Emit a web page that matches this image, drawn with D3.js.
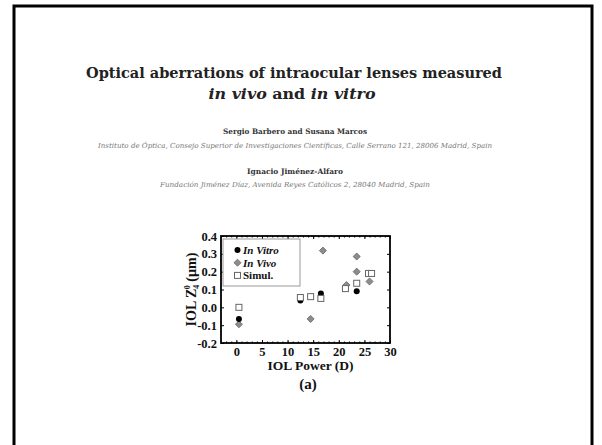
<!DOCTYPE html>
<html>
<head>
<meta charset="utf-8">
<script src="https://cdn.jsdelivr.net/npm/d3@7"></script>
<style>
  body { margin: 0; background: #fff; }
  svg { display: block; }
</style>
</head>
<body>
<div id="chart"></div>
<script>
// DATA
var inVitro = [[0.5, -0.065], [12.5, 0.038], [16.5, 0.078], [23.5, 0.09]];
var inVivo = [[0.5, -0.095], [14.5, -0.065], [16.9, 0.318], [21.5, 0.125],
              [23.5, 0.285], [23.5, 0.2], [26, 0.145]];
var simul = [[0.5, 0.0], [12.5, 0.055], [14.5, 0.06], [16.5, 0.05],
             [21.3, 0.105], [23.5, 0.135], [25.8, 0.19], [26.4, 0.19]];

var xTicks = [0, 5, 10, 15, 20, 25, 30];
var yTicks = [-0.2, -0.1, 0.0, 0.1, 0.2, 0.3, 0.4];
var yTickLabels = ["-0.2", "-0.1", "0.0", "0.1", "0.2", "0.3", "0.4"];
var legendNames = ["In Vitro", "In Vivo", "Simul."];

var titleLine1 = "Optical aberrations of intraocular lenses measured";
var authors1 = "Sergio Barbero and Susana Marcos";
var affil1 = "Instituto de Óptica, Consejo Superior de Investigaciones Científicas, Calle Serrano 121, 28006 Madrid, Spain";
var authors2 = "Ignacio Jiménez-Alfaro";
var affil2 = "Fundación Jiménez Díaz, Avenida Reyes Católicos 2, 28040 Madrid, Spain";

// LAYOUT
var WIDTH = 602, HEIGHT = 445;
var PLOT = {left: 221, right: 390, top: 236, bottom: 343};
var SERIF = "'Liberation Serif', 'Times New Roman', serif";
var WIDE_SERIF = "'DejaVu Serif', serif";

var svg = d3.select("#chart").append("svg")
    .attr("width", WIDTH)
    .attr("height", HEIGHT);

// page frame (no bottom edge)
svg.append("path")
    .attr("d", "M14," + HEIGHT + "V6H592V" + HEIGHT)
    .attr("fill", "none")
    .attr("stroke", "#000")
    .attr("stroke-width", 3);

// header texts
svg.append("text")
    .attr("x", 294).attr("y", 78)
    .attr("text-anchor", "middle")
    .attr("font-family", WIDE_SERIF).attr("font-weight", "bold")
    .attr("font-size", 14)
    .attr("textLength", 416).attr("lengthAdjust", "spacingAndGlyphs")
    .attr("fill", "#222")
    .text(titleLine1);

var t2 = svg.append("text")
    .attr("x", 292).attr("y", 99)
    .attr("text-anchor", "middle")
    .attr("font-family", WIDE_SERIF).attr("font-weight", "bold")
    .attr("font-size", 14)
    .attr("textLength", 167).attr("lengthAdjust", "spacingAndGlyphs")
    .attr("fill", "#222");
t2.append("tspan").attr("font-style", "italic").text("in vivo");
t2.append("tspan").text(" and ");
t2.append("tspan").attr("font-style", "italic").text("in vitro");

var headerLines = [
    {text: authors1, y: 134, w: 144, bold: true, size: 7.5, col: "#333"},
    {text: affil1, y: 148, w: 394, bold: false, size: 7, col: "#777"},
    {text: authors2, y: 174, w: 96, bold: true, size: 7.5, col: "#333"},
    {text: affil2, y: 187, w: 270, bold: false, size: 7, col: "#777"}
];
svg.selectAll(".hdr")
    .data(headerLines)
    .enter()
    .append("text")
    .attr("class", "hdr")
    .attr("x", 295)
    .attr("y", d => d.y)
    .attr("text-anchor", "middle")
    .attr("font-family", WIDE_SERIF)
    .attr("font-weight", d => d.bold ? "bold" : "normal")
    .attr("font-style", d => d.bold ? "normal" : "italic")
    .attr("font-size", d => d.size)
    .attr("textLength", d => d.w)
    .attr("lengthAdjust", "spacingAndGlyphs")
    .attr("fill", d => d.col)
    .text(d => d.text);

// SCALES
var xScale = d3.scaleLinear().domain([-3, 30]).range([PLOT.left, PLOT.right]);
var yScale = d3.scaleLinear().domain([-0.2, 0.4]).range([PLOT.bottom, PLOT.top]);

// AXES
function styleAxis(g) {
    g.select(".domain").remove();
    g.selectAll("line").attr("stroke", "#000").attr("stroke-width", 1);
    g.selectAll("text")
        .attr("font-family", SERIF)
        .attr("font-weight", "bold")
        .attr("font-size", 12.5)
        .attr("fill", "#111");
}

var minorX = d3.range(-3, 31, 1);

svg.append("g")
    .attr("transform", "translate(0," + PLOT.bottom + ")")
    .call(d3.axisBottom(xScale).tickValues(minorX).tickSize(-1.5).tickFormat(""))
    .call(styleAxis);
svg.append("g")
    .attr("transform", "translate(0," + PLOT.top + ")")
    .call(d3.axisTop(xScale).tickValues(minorX).tickSize(-1.5).tickFormat(""))
    .call(styleAxis);

svg.append("g")
    .attr("transform", "translate(0," + PLOT.bottom + ")")
    .call(d3.axisBottom(xScale).tickValues(xTicks).tickSize(-3).tickPadding(4))
    .call(styleAxis);
svg.append("g")
    .attr("transform", "translate(0," + PLOT.top + ")")
    .call(d3.axisTop(xScale).tickValues(xTicks).tickSize(-3).tickFormat(""))
    .call(styleAxis);

svg.append("g")
    .attr("transform", "translate(" + PLOT.left + ",0)")
    .call(d3.axisLeft(yScale).tickValues(yTicks).tickSize(-3).tickPadding(4)
        .tickFormat((d, i) => yTickLabels[i]))
    .call(styleAxis);
svg.append("g")
    .attr("transform", "translate(" + PLOT.right + ",0)")
    .call(d3.axisRight(yScale).tickValues(yTicks).tickSize(-3).tickFormat(""))
    .call(styleAxis);

// axes box
svg.append("rect")
    .attr("x", PLOT.left).attr("y", PLOT.top)
    .attr("width", PLOT.right - PLOT.left)
    .attr("height", PLOT.bottom - PLOT.top)
    .attr("fill", "none")
    .attr("stroke", "#000")
    .attr("stroke-width", 1.8);

// axis titles
svg.append("text")
    .attr("x", (PLOT.left + PLOT.right) / 2 + 5)
    .attr("y", 370)
    .attr("text-anchor", "middle")
    .attr("font-family", SERIF).attr("font-weight", "bold")
    .attr("font-size", 13.5)
    .attr("fill", "#111")
    .text("IOL Power (D)");

var yl = svg.append("text")
    .attr("transform", "translate(196," + ((PLOT.top + PLOT.bottom) / 2) + ") rotate(-90)")
    .attr("text-anchor", "middle")
    .attr("font-family", SERIF).attr("font-weight", "bold")
    .attr("font-size", 14)
    .attr("fill", "#111");
yl.append("tspan").text("IOL Z");
yl.append("tspan").attr("font-size", 8).attr("dy", 3).text("4");
yl.append("tspan").attr("font-size", 8).attr("dx", -4.5).attr("dy", -9).text("0");
yl.append("tspan").attr("dy", 6).text(" (µm)");

svg.append("text")
    .attr("x", 308).attr("y", 389)
    .attr("text-anchor", "middle")
    .attr("font-family", SERIF).attr("font-weight", "bold")
    .attr("font-size", 15)
    .attr("fill", "#111")
    .text("(a)");

// MARKERS
function drawSquares(g, data) {
    g.selectAll(".sq").data(data).enter().append("rect")
        .attr("x", d => xScale(d[0]) - 3)
        .attr("y", d => yScale(d[1]) - 3)
        .attr("width", 6).attr("height", 6)
        .attr("fill", "#fff")
        .attr("stroke", "#666")
        .attr("stroke-width", 1);
}
function drawDiamonds(g, data) {
    g.selectAll(".dm").data(data).enter().append("path")
        .attr("d", d3.symbol(d3.symbolDiamond2, 32))
        .attr("transform", d => "translate(" + xScale(d[0]) + "," + yScale(d[1]) + ")")
        .attr("fill", "#8c8c8c")
        .attr("stroke", "#666")
        .attr("stroke-width", 0.8);
}
function drawCircles(g, data) {
    g.selectAll(".ci").data(data).enter().append("circle")
        .attr("cx", d => xScale(d[0]))
        .attr("cy", d => yScale(d[1]))
        .attr("r", 3)
        .attr("fill", "#000");
}

var pts = svg.append("g");
drawDiamonds(pts.append("g"), inVivo);
drawCircles(pts.append("g"), inVitro);
drawSquares(pts.append("g"), simul);

// LEGEND
var lg = svg.append("g");
lg.append("rect")
    .attr("x", 223).attr("y", 239)
    .attr("width", 77).attr("height", 47)
    .attr("fill", "#fff")
    .attr("stroke", "#999")
    .attr("stroke-width", 1);

var legendY = [250, 262.7, 275.4];
var lgX = xScale.invert(237.5);
drawCircles(lg.append("g"), [[lgX, yScale.invert(legendY[0])]]);
drawDiamonds(lg.append("g"), [[lgX, yScale.invert(legendY[1])]]);
drawSquares(lg.append("g"), [[lgX, yScale.invert(legendY[2])]]);

lg.selectAll(".lt").data(legendNames).enter().append("text")
    .attr("x", 243)
    .attr("y", (d, i) => legendY[i] + 4)
    .attr("font-family", SERIF)
    .attr("font-weight", "bold")
    .attr("font-style", (d, i) => i < 2 ? "italic" : "normal")
    .attr("font-size", 11)
    .attr("fill", "#111")
    .text(d => d);
</script>
</body>
</html>
